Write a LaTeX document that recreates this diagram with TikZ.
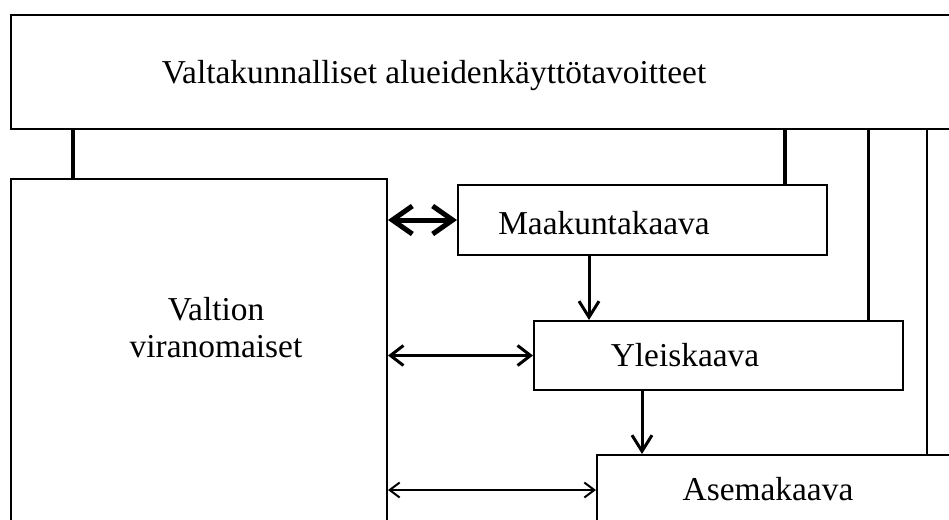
\documentclass[tikz,border=0pt]{standalone}
\usepackage{fontspec}
\setmainfont{Liberation Serif}
\usetikzlibrary{positioning,arrows.meta}

\begin{document}
\begin{tikzpicture}[x=0.5pt,y=-0.5pt,
  box/.style={draw, line width=1pt, inner sep=0pt, anchor=north west},
  txt/.style={font=\fontsize{16.7}{18.5}\selectfont, inner sep=0pt, align=center},
  bigarrow/.style={{Straight Barb[length=10pt,width=14pt]}-{Straight Barb[length=10pt,width=14pt]}, line width=2.5pt},
  midarrow/.style={{Straight Barb[length=6.5pt,width=10pt]}-{Straight Barb[length=6.5pt,width=10pt]}, line width=1.5pt},
  smallarrow/.style={{Straight Barb[length=5pt,width=7.5pt]}-{Straight Barb[length=5pt,width=7.5pt]}, line width=1pt},
  downarrow/.style={-{Straight Barb[length=8pt,width=10pt]}, line width=1.5pt}]
\useasboundingbox (0,0) rectangle (949,520);
\clip (0,0) rectangle (949,520);
\node[box, minimum width=480pt, minimum height=57pt] (VAT) at (10,14) {};
\node[box, minimum width=188pt, minimum height=191pt] (VO) at (10,178) {};
\node[box, minimum width=184.5pt, minimum height=35pt] (MK) at (457,184) {};
\node[box, minimum width=184.5pt, minimum height=34.5pt] (YK) at (533,320) {};
\node[box, minimum width=200pt, minimum height=35pt] (AK) at (596,454) {};
\node[txt, anchor=base] (VATt) at (434,83) {Valtakunnalliset alueidenkäyttötavoitteet};
\node[txt] (VOt) at (216,328) {Valtion\\viranomaiset};
\node[txt, anchor=base] (MKt) at (604,234) {Maakuntakaava};
\node[txt, anchor=base] (YKt) at (685,366) {Yleiskaava};
\node[txt, anchor=base] (AKt) at (768,500) {Asemakaava};
\draw[line width=2pt] (VAT.south -| 73,0) -- (VO.north -| 73,0);
\draw[line width=2pt] (VAT.south -| 785,0) -- (MK.north -| 785,0);
\draw[line width=1.5pt] (VAT.south -| 868,0) -- (YK.north -| 868,0);
\draw[line width=1pt] (VAT.south -| 927,0) -- (AK.north -| 927,0);
\draw[bigarrow] (MK.west -| VO.east) -- (MK.west);
\draw[midarrow] (YK.west -| VO.east) -- (YK.west);
\draw[smallarrow] (AK.west -| VO.east) -- (AK.west);
\draw[downarrow] (MK.south -| 589,0) -- (YK.north -| 589,0);
\draw[downarrow] (YK.south -| 642,0) -- (AK.north -| 642,0);
\end{tikzpicture}
\end{document}
